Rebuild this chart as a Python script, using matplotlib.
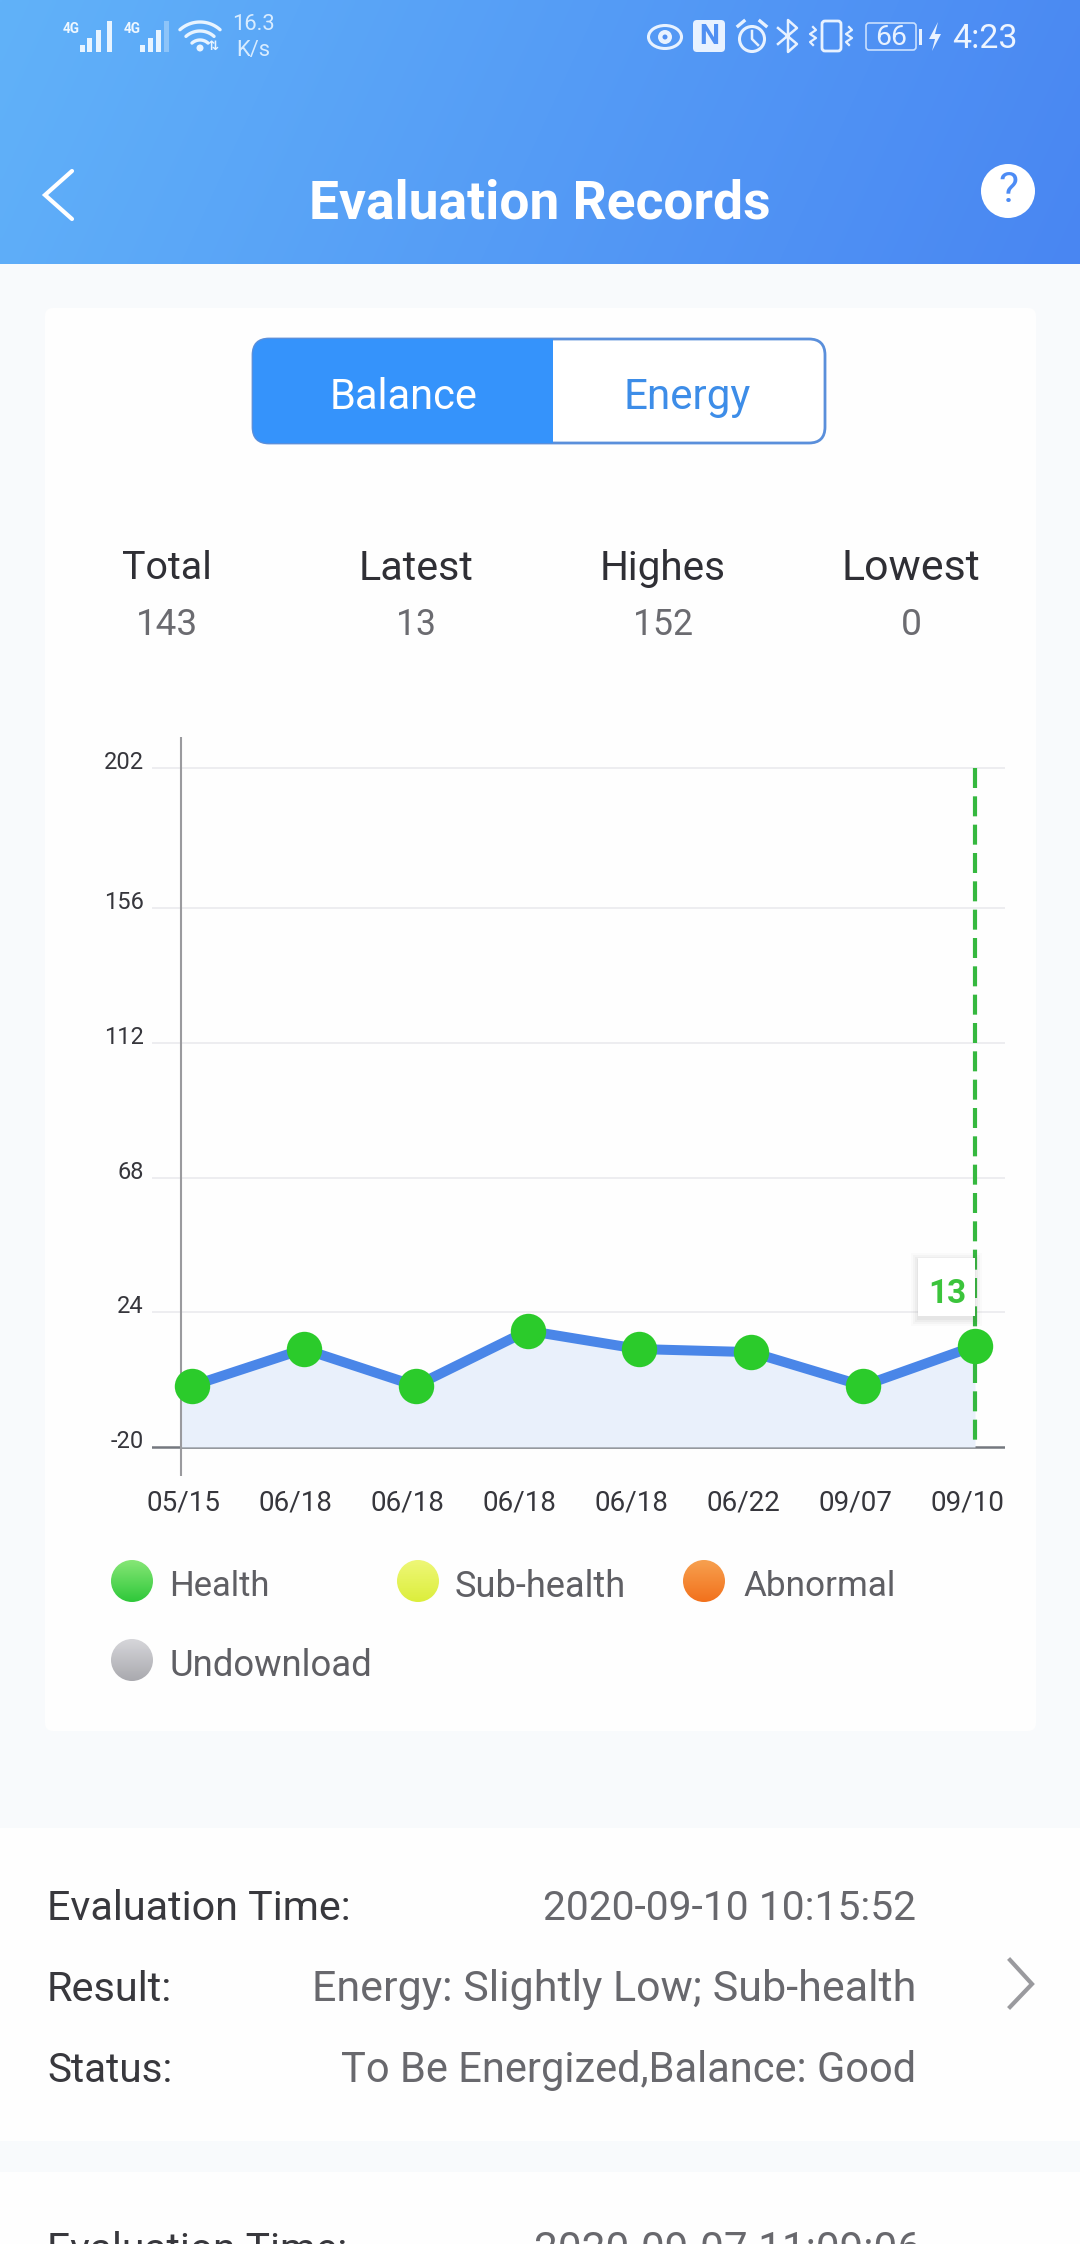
import numpy as np
import matplotlib
matplotlib.use("Agg")
import matplotlib.pyplot as plt
from matplotlib.patches import Rectangle, FancyBboxPatch, Circle, Ellipse, Polygon
from matplotlib.transforms import ScaledTranslation
from matplotlib.colors import to_rgb

# ---- chart data ----
dates = ["05/15", "06/18", "06/18", "06/18", "06/18", "06/22", "09/07", "09/10"]
balance = [0, 12, 0, 18, 12, 11, 0, 13]
y_ticks = [-20, 24, 68, 112, 156, 202]
stat_names = ["Total", "Latest", "Highes", "Lowest"]
stat_values = ["143", "13", "152", "0"]
legend_names = ["Health", "Sub-health", "Abnormal", "Undownload"]
legend_top = ["#86e676", "#eef777", "#f7a04f", "#d6d6da"]
legend_bot = ["#2fc83a", "#dcee3c", "#f2711c", "#a9a9ae"]

FONT = ["Roboto", "DejaVu Sans"]
W, H, DPI = 1080, 2244, 100
fig = plt.figure(figsize=(W / DPI, H / DPI), dpi=DPI, facecolor="#f8fafc")
ui = fig.add_axes([0, 0, 1, 1])
ui.set_axis_off()
renderer = fig.canvas.get_renderer()


def fit(x, y, s, w, color="#333333", ha="center", va="center", weight="normal", family=FONT, z=5):
    t = ui.text(x, y + 3.5, s, color=color, ha=ha, va=va, fontweight=weight, family=family, fontsize=20, zorder=z)
    t.set_fontsize(20 * w / t.get_window_extent(renderer).width)
    return t


def gradient(l, r, t, b, arr, clip=None, z=1):
    im = ui.imshow(arr, extent=(l, r, b, t), aspect="auto", zorder=z, interpolation="bilinear")
    if clip is not None:
        ui.add_patch(clip)
        clip.set_visible(False)
        im.set_clip_path(clip)
    return im


def hexmix(c1, c2, n=48):
    a, b = np.array(to_rgb(c1)), np.array(to_rgb(c2))
    f = np.linspace(0, 1, n)[:, None]
    return (a * (1 - f) + b * f)[:, None, :]


# ---- header ----
xx, yy = np.meshgrid(np.linspace(0, 1, 256), np.linspace(0, 1, 64))
f = (0.9 * xx + 0.1 * yy)[:, :, None]
gradient(0, W, 0, 264, np.array(to_rgb("#61b2f9")) * (1 - f) + np.array(to_rgb("#4986f2")) * f)

# signal bars
for x0s, alphas in (((82, 89, 98, 109), (1, 1, 1, 1)), ((142, 150, 158, 166), (1, 1, 1, 0.35))):
    for x0, top, a in zip(x0s, (45, 38, 30, 21), alphas):
        ui.add_patch(Rectangle((x0 - 2, top), 4.5, 52 - top, fc="#e8f4ff", alpha=a, zorder=5))
fit(71, 25, "4G", 17, "#eef7ff", weight="bold")
fit(132, 25, "4G", 17, "#eef7ff", weight="bold")
# wifi
th = np.radians(np.linspace(48, 132, 30))
for rad in (12, 21, 30):
    ui.plot(200 + rad * np.cos(th), 52 - rad * np.sin(th), color="#e8f4ff", lw=2.4, zorder=5, solid_capstyle="round")
ui.add_patch(Circle((200, 48), 3.5, fc="#e8f4ff", zorder=5))
fit(213, 43, "⇅", 11, "#e8f4ff", family=["DejaVu Sans"], weight="bold")
fit(253, 21, "16.3", 43, "#d8ecff", family=["Roboto"])
fit(253, 47, "K/s", 34, "#d8ecff", family=["Roboto"])

# eye
ui.add_patch(Ellipse((665, 37), 33, 23, fc="none", ec="#e8f2ff", lw=2.2, zorder=5))
ui.add_patch(Circle((665, 37), 7, fc="#e8f2ff", zorder=5))
ui.add_patch(Circle((665, 37), 2.5, fc="#4f8ff2", zorder=6))
# NFC
ui.add_patch(FancyBboxPatch((696, 23), 26, 26, boxstyle="round,pad=3,rounding_size=4", fc="#e8f2ff", ec="none", zorder=5))
fit(709, 33, "N", 20, "#4f8ff2", weight="bold", z=6)
# alarm
ui.add_patch(Circle((752, 39), 12.5, fc="none", ec="#e8f2ff", lw=2.2, zorder=5))
ui.plot([752, 752, 758], [31, 39, 45], color="#e8f2ff", lw=1.8, zorder=5)
ui.plot([738, 744], [26, 21], color="#e8f2ff", lw=2.4, zorder=5)
ui.plot([760, 766], [21, 26], color="#e8f2ff", lw=2.4, zorder=5)
# bluetooth
ui.plot([778, 797, 788, 788, 797, 778], [28, 44, 52, 20, 28, 44], color="#e8f2ff", lw=1.8, zorder=5)
# vibrate
ui.add_patch(FancyBboxPatch((823, 22), 17, 28, boxstyle="round,pad=1,rounding_size=3", fc="none", ec="#e8f2ff", lw=2, zorder=5))
for xc in (813, 849):
    ui.plot([xc, xc + 3, xc - 3, xc + 3, xc - 3, xc], [27, 30, 34, 38, 42, 45], color="#e8f2ff", lw=1.6, zorder=5)
# battery
ui.add_patch(FancyBboxPatch((867, 24), 48, 25, boxstyle="round,pad=1,rounding_size=3", fc="none", ec="#c9e0ff", lw=1.2, zorder=5))
fit(891, 34, "66", 32, "#e8f2ff", family=["Roboto"])
ui.add_patch(Rectangle((919, 29), 3, 16, fc="#e8f2ff", zorder=5))
ui.add_patch(Polygon([(938, 22), (929, 39), (935, 39), (932, 51), (941, 34), (935, 34)], fc="#e8f2ff", zorder=5))
fit(985, 35, "4:23", 65, "#eef5ff", family=["Roboto"])

# navigation
ui.plot([72, 45, 72], [171, 195, 219], color="white", lw=3, zorder=5, solid_capstyle="round", solid_joinstyle="miter")
fit(540, 200, "Evaluation Records", 461, "white", weight="bold")
ui.add_patch(Ellipse((1008, 191), 54, 54, fc="white", zorder=5))
fit(1008, 187, "?", 20, "#4d8cf5", z=6)

# ---- page ----
ui.add_patch(FancyBboxPatch((50, 313), 981, 1413, boxstyle="round,pad=5,rounding_size=8", fc="#fefefe", ec="none", zorder=2))
ui.add_patch(Rectangle((0, 1828), W, 313, fc="#fefefe", zorder=2))
ui.add_patch(Rectangle((0, 2172), W, 72, fc="#fefefe", zorder=2))

# toggle
ui.add_patch(FancyBboxPatch((269, 355), 540, 72, boxstyle="round,pad=16,rounding_size=16", fc="white", ec="#5a8fdb", lw=2, zorder=3))
left_seg = FancyBboxPatch((269, 355), 540, 72, boxstyle="round,pad=16,rounding_size=16", fc="#3593fb", ec="none", zorder=4)
ui.add_patch(left_seg)
left_seg.set_clip_path(Rectangle((250, 335), 303, 112, transform=ui.transData))
fit(404, 394, "Balance", 148, "white", weight="normal")
fit(687, 394, "Energy", 127, "#3d8de8")

# stats
for xc, name, val, wn, wv in zip((167, 416, 663, 911), stat_names, stat_values, (90, 114, 126, 138), (62, 40, 60, 21)):
    fit(xc, 565, name, wn, "#2f2f35")
    fit(xc, 621, val, wv, "#6b6b70")

# legend
for (cx, cy), tx, name, top, bot, wd in zip(((132, 1581), (418, 1581), (704, 1581), (132, 1660)),
                                            (169, 455, 743, 169), legend_names, legend_top, legend_bot,
                                            (100, 171, 152, 203)):
    gradient(cx - 21, cx + 21, cy - 21, cy + 21, hexmix(top, bot),
             clip=Circle((cx, cy), 21, transform=ui.transData), z=4)
    fit(tx, cy + 2, name, wd, "#5f5f64", ha="left")

# detail rows
rows = [(1905, "Evaluation Time:", "2020-09-10 10:15:52", 303, 372),
        (1986, "Result:", "Energy: Slightly Low; Sub-health", 125, 603),
        (2067, "Status:", "To Be Energized,Balance: Good", 125, 575)]
for y, a, b, wa, wb in rows:
    fit(47, y, a, wa, "#38383d", ha="left")
    fit(916, y, b, wb, "#68686d", ha="right")
fit(47, 2227, "Evaluation Time:", 300, "#38383d", ha="left", va="top")
fit(921, 2227, "2020-09-07 11:09:06", 386, "#68686d", ha="right", va="top")
ui.plot([1010, 1032, 1010], [1960, 1984, 2007], color="#9a9a9e", lw=3, zorder=5, solid_joinstyle="miter")

ui.set_xlim(0, W)
ui.set_ylim(H, 0)

# ---- chart ----
L, R, T, B = 152, 1005, 737, 1476
ax = fig.add_axes([L / W, 1 - B / H, (R - L) / W, (B - T) / H])
ax.patch.set_alpha(0)
px_x = 111.86
px_y = 3.06
ax.set_xlim((L - 192) / px_x, (R - 192) / px_x)
ax.set_ylim(-20 - (B - 1447) / px_y, -20 + (1447 - T) / px_y)
for s in ax.spines.values():
    s.set_visible(False)

idx = np.arange(len(dates))
axis_x = (180.7 - 192) / px_x
ax.fill_between(np.r_[axis_x, idx], np.r_[balance[0], balance], y_ticks[0], color="#e9f0fb", lw=0, zorder=1)
ax.axvline(axis_x, color="#9a9a9e", lw=1.5, zorder=2)
ax.plot([idx[-1], idx[-1]], [y_ticks[-1], y_ticks[0]], color="#35b83f", lw=3.0, dashes=(4.8, 2.0), zorder=3)
ax.plot(idx, balance, color="#4a86e8", lw=7.2, zorder=4, solid_joinstyle="round")
ax.plot(idx, balance, ls="none", marker="o", ms=25.5, mfc="#2bcb2b", mec="none", zorder=5)

ax.set_yticks(y_ticks)
ax.set_yticklabels([str(v) for v in y_ticks], family="Roboto", fontsize=17, color="#36363c")
ax.set_xticks(idx)
ax.set_xticklabels(dates, family=FONT, fontsize=20, color="#36363c")
ax.tick_params(axis="both", length=0)
ax.tick_params(axis="y", pad=5.8)
ax.tick_params(axis="x", pad=10)
ax.grid(axis="y", color="#e8e8ec", lw=1.1, zorder=0)
ax.grid(axis="x", visible=False)
ax.set_axisbelow(True)
ax.get_ygridlines()[0].set_color("#74787f")
ax.get_ygridlines()[0].set_linewidth(1.8)
ax.get_ygridlines()[0].set_zorder(6)
for lab in ax.get_yticklabels():
    lab.set_transform(lab.get_transform() + ScaledTranslation(0, 8 / DPI, fig.dpi_scale_trans))
for lab in ax.get_xticklabels():
    lab.set_transform(lab.get_transform() + ScaledTranslation(-8 / DPI, 0, fig.dpi_scale_trans))

# tooltip
for grow, a in ((7, 0.02), (5, 0.03), (3, 0.04), (1, 0.05)):
    ax.add_patch(Rectangle((918 - grow, 1260 - grow), 57 + 2 * grow, 59 + 2 * grow, transform=ui.transData,
                           fc="#555555", alpha=a, ec="none", zorder=6, clip_on=False))
ax.add_patch(Rectangle((918, 1258), 57, 58, transform=ui.transData, fc="white", ec="none", zorder=7, clip_on=False))
ax.annotate(str(balance[-1]), xy=(idx[-1], balance[-1]), xytext=(-28, 52), textcoords="offset pixels",
            ha="center", va="center", color="#3cc43c", fontsize=24, family=FONT, fontweight="bold", zorder=8)

fig.savefig("out.png", dpi=DPI, facecolor=fig.get_facecolor())
